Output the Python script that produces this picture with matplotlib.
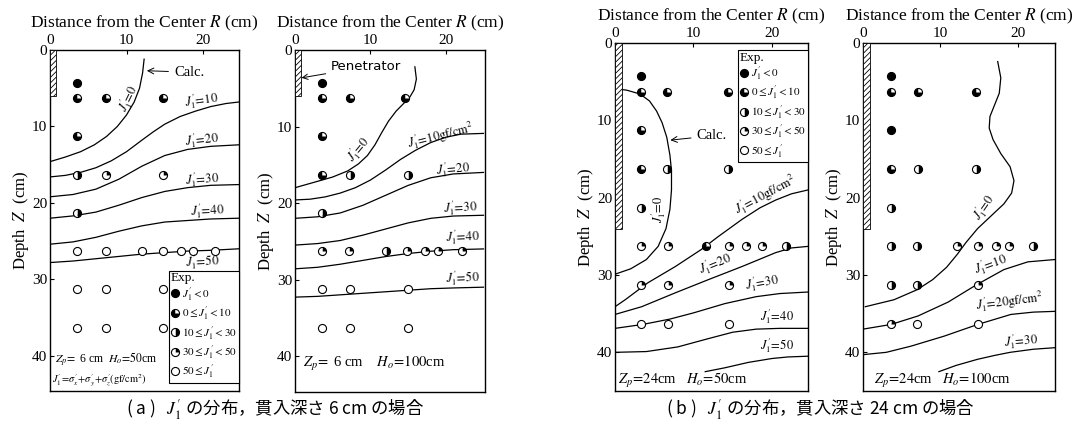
import matplotlib
matplotlib.use("Agg")
import numpy as np
import matplotlib.pyplot as plt
from matplotlib.lines import Line2D
from matplotlib.patches import Rectangle
from matplotlib.legend_handler import HandlerTuple

plt.rcParams['font.family'] = ['Liberation Serif', 'DejaVu Serif']
plt.rcParams['mathtext.fontset'] = 'stix'
plt.rcParams['hatch.linewidth'] = 0.6

# ---------------- data ----------------
# experimental point categories: 0: J<0, 1: 0<=J<10, 2: 10<=J<30, 3: 30<=J<50, 4: 50<=J
cat_labels = [r"$J_1'<0$", r"$0\leq J_1'<10$", r"$10\leq J_1'<30$",
              r"$30\leq J_1'<50$", r"$50\leq J_1'$"]
row_z = [4.3, 6.3, 6.3, 6.3, 11.3, 16.3, 16.3, 16.3, 21.3,
         26.3, 26.3, 26.3, 26.3, 26.3, 26.3, 26.3,
         31.3, 31.3, 31.3, 36.3, 36.3, 36.3]

# (a) left : Zp = 6 cm, Ho = 50 cm
a1_dot_r = [3.5, 3.5, 7.3, 14.8, 3.5, 3.5, 7.3, 14.8, 3.5,
            3.5, 7.3, 12.0, 14.8, 17.1, 18.7, 21.6,
            3.5, 7.3, 14.8, 3.5, 7.3, 14.8]
a1_dot_cat = [0, 1, 1, 1, 1, 2, 3, 3, 2, 4, 4, 4, 4, 4, 4, 4, 4, 4, 4, 4, 4, 4]
a1_levels = [0, 10, 20, 30, 40, 50]
a1_curve_r = [
    [12.3, 12.1, 11.7, 11.0, 10.0, 8.8, 7.4, 5.8, 4.0, 2.0, 0.0],
    [0, 2, 4, 6, 8, 10, 12, 13.5, 15, 17, 19, 21, 23, 24.7],
    [0, 3, 6, 9, 12, 15, 18, 21, 24.7],
    [0, 3, 6, 9, 12, 15, 18, 21, 24.7],
    [0, 3, 6, 9, 12, 15, 18, 21, 24.7],
    [0, 3, 6, 9, 12, 15, 18, 21, 24.7],
]
a1_curve_z = [
    [1.2, 3.0, 5.0, 6.8, 8.5, 10.0, 11.3, 12.4, 13.3, 14.0, 14.6],
    [16.6, 16.4, 16.0, 15.4, 14.5, 13.3, 11.8, 10.7, 9.7, 8.7, 8.0, 7.4, 7.0, 6.8],
    [19.2, 18.9, 18.2, 16.9, 15.2, 13.8, 13.0, 12.6, 12.4],
    [22.0, 21.7, 21.2, 20.3, 19.3, 18.5, 18.0, 17.7, 17.6],
    [25.4, 25.1, 24.5, 23.7, 23.0, 22.5, 22.3, 22.1, 22.0],
    [27.8, 27.6, 27.3, 27.0, 26.7, 26.5, 26.3, 26.2, 26.0],
]

# (a) right : Zp = 6 cm, Ho = 100 cm
a2_dot_r = [3.6, 3.6, 7.3, 14.6, 3.6, 3.6, 7.3, 15.0, 3.6,
            3.6, 7.1, 12.1, 14.8, 17.2, 18.9, 22.1,
            3.6, 7.3, 15.0, 3.6, 7.3, 15.0]
a2_dot_cat = [0, 1, 1, 1, 1, 1, 2, 2, 2, 3, 3, 2, 3, 3, 3, 3, 4, 4, 4, 4, 4, 4]
a2_levels = [0, 10, 20, 30, 40, 50]
a2_curve_r = [
    [15.9, 16.1, 15.8, 15.2, 14.4, 13.4, 12.4, 11.5, 10.6, 9.6, 8.4, 7.0, 5.0, 2.5, 0],
    [0, 2, 4, 6, 8, 10, 12, 14, 16, 18, 20, 22, 25],
    [0, 3, 6, 9, 12, 15, 18, 21, 25],
    [0, 3, 6, 9, 12, 15, 18, 21, 25],
    [0, 3, 6, 9, 12, 15, 18, 21, 25],
    [0, 3, 6, 9, 12, 15, 18, 21, 25],
]
a2_curve_z = [
    [2.2, 3.8, 5.2, 6.2, 7.0, 8.0, 9.3, 10.8, 12.4, 13.8, 14.9, 15.8, 16.6, 17.3, 18.0],
    [19.6, 19.5, 19.2, 18.7, 18.0, 17.0, 15.7, 14.3, 13.1, 12.1, 11.4, 11.0, 10.9],
    [22.0, 21.8, 21.3, 20.3, 19.0, 17.7, 16.7, 16.2, 16.0],
    [25.5, 25.3, 24.9, 24.2, 23.4, 22.6, 22.0, 21.7, 21.6],
    [28.6, 28.4, 28.0, 27.5, 27.0, 26.6, 26.3, 26.1, 26.0],
    [32.3, 32.2, 32.0, 31.8, 31.6, 31.4, 31.2, 31.1, 31.0],
]

# (b) left : Zp = 24 cm, Ho = 50 cm
b1_dot_r = [3.3, 3.3, 6.6, 14.4, 3.3, 3.3, 6.6, 14.4, 3.3,
            3.3, 6.8, 11.6, 14.5, 16.7, 18.7, 21.8,
            3.3, 6.8, 14.5, 3.3, 6.8, 14.5]
b1_dot_cat = [0, 1, 1, 1, 1, 1, 2, 2, 2, 3, 3, 1, 3, 3, 3, 2, 3, 3, 3, 4, 4, 4]
b1_levels = [0, 10, 20, 30, 40, 50]
b1_curve_r = [
    [0, 1.5, 3.2, 4.4, 5.3, 6.0, 6.6, 7.0, 7.2, 7.2, 7.0, 6.5, 5.5, 4.0, 2.0, 0],
    [0, 1.3, 4.2, 7.7, 11.0, 13.2, 16.2, 18.5, 20.5, 22.5, 24.6],
    [0, 3.4, 7.7, 11.9, 16.2, 20.5, 22.5, 24.6],
    [0, 3.5, 7, 10, 14, 18, 21, 24.6],
    [0, 4, 8, 12, 15, 18, 21, 24.6],
    [11.5, 14, 17, 20, 22, 24.6],
]
b1_curve_z = [
    [5.9, 6.1, 6.6, 7.5, 8.8, 10.3, 12.2, 14.5, 16.5, 19.0, 21.5, 24.0, 26.3, 28.0, 29.2, 29.9],
    [34.1, 33.2, 31.0, 28.9, 26.7, 25.0, 22.8, 21.3, 20.3, 19.5, 19.0],
    [35.1, 34.1, 32.3, 30.6, 28.9, 27.1, 26.5, 26.3],
    [36.9, 36.4, 35.7, 34.9, 33.7, 32.8, 32.4, 32.2],
    [40.0, 39.9, 39.3, 38.2, 37.4, 37.0, 36.9, 36.9],
    [42.5, 42.0, 41.3, 40.8, 40.6, 40.5],
]

# (b) right : Zp = 24 cm, Ho = 100 cm
b2_dot_r = [3.6, 3.6, 7.1, 14.6, 3.6, 3.6, 7.1, 14.6, 3.6,
            3.6, 7.0, 12.2, 14.8, 17.2, 18.9, 21.9,
            3.6, 7.0, 14.8, 3.6, 7.0, 14.8]
b2_dot_cat = [0, 1, 1, 1, 0, 1, 2, 2, 2, 2, 2, 3, 3, 3, 3, 2, 2, 2, 3, 3, 4, 4]
b2_levels = [0, 10, 20, 30]
b2_curve_r = [
    [17.4, 17.8, 17.6, 17.0, 16.4, 16.3, 16.8, 17.8, 19.0, 19.5, 19.2, 18.2, 16.5,
     14.8, 13.3, 12.2, 10.8, 9.0, 7.0, 4.0, 0.3],
    [0, 3.6, 7.1, 11.0, 14.6, 18.2, 21.3, 24.8],
    [0, 3, 6.2, 10.5, 14.8, 19.1, 22, 24.8],
    [9.8, 12, 14.8, 17, 19, 22, 24.8],
]
b2_curve_z = [
    [2.4, 4.5, 6.5, 8.0, 9.5, 11.0, 12.5, 14.3, 16.0, 17.8, 19.4, 20.8, 22.4,
     24.0, 25.8, 27.3, 29.0, 30.6, 31.9, 33.2, 34.1],
    [37.0, 36.4, 35.3, 33.5, 31.3, 29.3, 28.3, 28.0],
    [40.3, 40.0, 39.2, 37.9, 36.4, 35.1, 34.8, 34.7],
    [42.5, 41.7, 40.9, 40.4, 40.0, 39.6, 39.4],
]

penetration_depth = {"a": 6, "b": 24}

# ---------------- styles ----------------
MS = 5.8
EW = 0.8
cat_styles = {
    0: [dict(marker='o', mfc='black', mec='black')],
    1: [dict(marker='o', fillstyle='left', mfc='black', mfcalt='white', mec='black', mew=0),
        dict(marker='o', fillstyle='bottom', mfc='black', mfcalt='none', mec='black', mew=0),
        dict(marker='o', mfc='none', mec='black')],
    2: [dict(marker='o', fillstyle='right', mfc='black', mfcalt='white', mec='black', mew=0),
        dict(marker='o', mfc='none', mec='black')],
    3: [dict(marker='o', fillstyle='right', mfc='black', mfcalt='white', mec='black', mew=0),
        dict(marker='o', fillstyle='bottom', mfc='white', mfcalt='none', mec='black', mew=0),
        dict(marker='o', mfc='none', mec='black')],
    4: [dict(marker='o', mfc='white', mec='black')],
}


def draw_dots(ax, rr, cc):
    rr = np.asarray(rr)
    zz = np.asarray(row_z)
    cc = np.asarray(cc)
    for c, styles in cat_styles.items():
        m = cc == c
        if not m.any():
            continue
        for s in styles:
            kw = dict(ls='none', ms=MS, mew=EW, zorder=4)
            kw.update(s)
            ax.plot(rr[m], zz[m], **kw)


def legend_handles():
    hs = []
    for c in range(5):
        parts = []
        for s in cat_styles[c]:
            kw = dict(ls='none', ms=MS, mew=EW)
            kw.update(s)
            parts.append(Line2D([], [], **kw))
        hs.append(tuple(parts))
    return hs


def add_legend(ax, loc, anchor):
    leg = ax.legend(handles=legend_handles(), labels=cat_labels,
                    handler_map={tuple: HandlerTuple(ndivide=1, pad=0)},
                    title='Exp.', alignment='left', loc=loc, bbox_to_anchor=anchor,
                    frameon=True, fancybox=False, edgecolor='black', framealpha=1,
                    fontsize=8, title_fontsize=9.5, handlelength=0.8, handletextpad=0.3,
                    borderpad=0.15, labelspacing=0.12, borderaxespad=0,
                    handleheight=0.9)
    leg.get_frame().set_linewidth(0.8)
    leg.set_zorder(6)


def setup_axes(ax, xmax, ymax, depth, pen_w):
    ax.set_xlim(0, xmax)
    ax.set_ylim(ymax, 0)
    ax.xaxis.tick_top()
    ax.xaxis.set_label_position('top')
    ax.set_xticks([0, 10, 20])
    ax.set_yticks([0, 10, 20, 30, 40])
    ax.tick_params(axis='both', direction='in', length=3, width=0.8, labelsize=11,
                   top=True, bottom=False, left=True, right=False, pad=2)
    ax.set_xlabel("Distance from the Center $R$ (cm)", fontsize=12.5, labelpad=5)
    ax.set_ylabel("Depth  $Z$  (cm)", fontsize=12, labelpad=1)
    for sp in ax.spines.values():
        sp.set_linewidth(1.0)
    ax.add_patch(Rectangle((0, 0), pen_w, depth, facecolor='white', edgecolor='black',
                           hatch='//////', lw=0.6, zorder=3))


def draw_curves(ax, rs, zs):
    for r, z in zip(rs, zs):
        ax.plot(r, z, color='black', lw=0.9, zorder=2)


def lab(ax, r, z, s, rot=0, fs=9, ha='center'):
    ax.text(r, z, s, rotation=rot, fontsize=fs, ha=ha, va='center',
            rotation_mode='anchor', zorder=5)


fig = plt.figure(figsize=(10.89, 4.29), dpi=100)
W, H = 1089.0, 429.0


def add_ax(l, r, t, b):
    return fig.add_axes([l / W, 1 - b / H, (r - l) / W, (b - t) / H])


ax1 = add_ax(50, 239, 50, 391)
ax2 = add_ax(295, 485, 50, 392)
ax3 = add_ax(615, 808, 43, 391)
ax4 = add_ax(863, 1055, 43, 391)

# ---- (a) left
setup_axes(ax1, 24.7, 44.6, penetration_depth["a"], 0.8)
draw_curves(ax1, a1_curve_r, a1_curve_z)
draw_dots(ax1, a1_dot_r, a1_dot_cat)
lab(ax1, 10.3, 6.3, r"$J_1'\!=\!0$", rot=64)
lab(ax1, 19.8, 6.6, r"$J_1'\!=\!10$", rot=8)
lab(ax1, 19.9, 11.7, r"$J_1'\!=\!20$", rot=6)
lab(ax1, 19.9, 16.9, r"$J_1'\!=\!30$", rot=4)
lab(ax1, 20.6, 21.0, r"$J_1'\!=\!40$", rot=3)
lab(ax1, 19.9, 27.7, r"$J_1'\!=\!50$", rot=3)
ax1.annotate("Calc.", xy=(12.3, 2.7), xytext=(16.2, 2.9), fontsize=10.5, va='center',
             arrowprops=dict(arrowstyle='->', lw=0.7, color='black'))
ax1.text(0.6, 40.5, r"$Z_p\!=$ 6 cm  $H_o\!=\!50$cm", fontsize=8.5, va='center')
ax1.text(0.2, 43.2, r"$J_1'\!=\!\sigma_x'\!+\!\sigma_y'\!+\!\sigma_z'(\mathrm{gf/cm^2})$",
         fontsize=7.5, va='center')
add_legend(ax1, 'lower right', (1.0, 0.023))

# ---- (a) right
setup_axes(ax2, 25.2, 44.7, penetration_depth["a"], 0.8)
draw_curves(ax2, a2_curve_r, a2_curve_z)
draw_dots(ax2, a2_dot_r, a2_dot_cat)
lab(ax2, 8.4, 13.0, r"$J_1'\!=\!0$", rot=50)
lab(ax2, 19.3, 11.2, r"$J_1'\!=\!10\mathrm{gf/cm^2}$", rot=14)
lab(ax2, 20.9, 15.6, r"$J_1'\!=\!20$", rot=5)
lab(ax2, 21.9, 20.6, r"$J_1'\!=\!30$", rot=3)
lab(ax2, 22.2, 24.4, r"$J_1'\!=\!40$", rot=2)
lab(ax2, 22.2, 29.8, r"$J_1'\!=\!50$", rot=2)
ax2.annotate("Penetrator", xy=(0.5, 3.7), xytext=(4.8, 2.2), fontsize=9.5,
             family='DejaVu Sans', va='center',
             arrowprops=dict(arrowstyle='->', lw=0.7, color='black'))
ax2.text(1.0, 41.0, r"$Z_p\!=$ 6 cm    $H_o\!=\!100$cm", fontsize=10.5, va='center')

# ---- (b) left
setup_axes(ax3, 24.6, 45.0, penetration_depth["b"], 0.9)
draw_curves(ax3, b1_curve_r, b1_curve_z)
draw_dots(ax3, b1_dot_r, b1_dot_cat)
lab(ax3, 5.6, 21.5, r"$J_1'\!=\!0$", rot=90)
lab(ax3, 19.2, 19.6, r"$J_1'\!=\!10\mathrm{gf/cm^2}$", rot=28)
lab(ax3, 12.8, 28.6, r"$J_1'\!=\!20$", rot=22)
lab(ax3, 18.8, 31.0, r"$J_1'\!=\!30$", rot=10)
lab(ax3, 20.6, 35.4, r"$J_1'\!=\!40$", rot=0)
lab(ax3, 20.6, 39.2, r"$J_1'\!=\!50$", rot=0)
ax3.annotate("Calc.", xy=(6.7, 12.6), xytext=(10.4, 12.0), fontsize=10.5, va='center',
             arrowprops=dict(arrowstyle='->', lw=0.7, color='black'))
ax3.text(0.4, 43.7, r"$Z_p\!=\!24$cm   $H_o\!=\!50$cm", fontsize=10.5, va='center')
add_legend(ax3, 'upper right', (1.0, 0.98))

# ---- (b) right
setup_axes(ax4, 24.8, 45.0, penetration_depth["b"], 0.9)
draw_curves(ax4, b2_curve_r, b2_curve_z)
draw_dots(ax4, b2_dot_r, b2_dot_cat)
lab(ax4, 15.7, 21.2, r"$J_1'\!=\!0$", rot=55)
lab(ax4, 16.5, 28.6, r"$J_1'\!=\!10$", rot=20)
lab(ax4, 18.9, 33.4, r"$J_1'\!=\!20\mathrm{gf/cm^2}$", rot=7)
lab(ax4, 20.4, 38.5, r"$J_1'\!=\!30$", rot=5)
ax4.text(1.4, 43.7, r"$Z_p\!=\!24$cm   $H_o\!=\!100$cm", fontsize=10.5, va='center')

# ---- captions
cap_font = ['Noto Sans CJK JP', 'DejaVu Sans']
fig.text(275 / W, 1 - 410 / H, "( a )   $J_1'$ の分布，貫入深さ 6 cm の場合",
         ha='center', va='center', fontsize=12.5, family=cap_font)
fig.text(820 / W, 1 - 410 / H, "( b )   $J_1'$ の分布，貫入深さ 24 cm の場合",
         ha='center', va='center', fontsize=12.5, family=cap_font)

fig.savefig("out.png", dpi=100)
